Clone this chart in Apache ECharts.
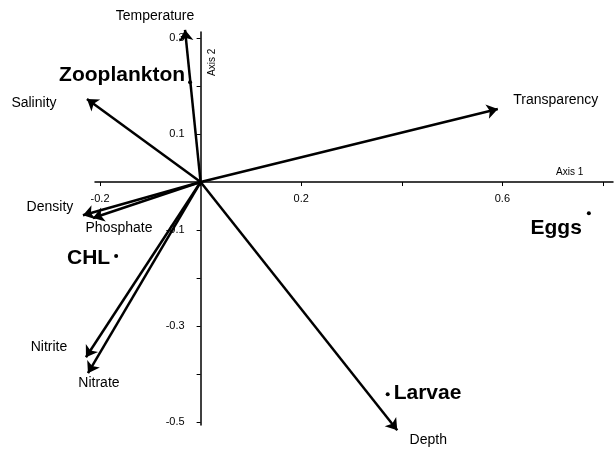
<!DOCTYPE html>
<html>
<head>
<meta charset="utf-8">
<script src="https://cdn.jsdelivr.net/npm/echarts@6/dist/echarts.min.js"></script>
<style>html,body{margin:0;padding:0;background:#fff}#c{width:614px;height:449px}</style>
</head>
<body>
<div id="c"></div>
<script>
// Environmental vectors (arrows from origin)
const vectorNames = ['Temperature', 'Salinity', 'Transparency', 'Density', 'Phosphate', 'Nitrite', 'Nitrate', 'Depth'];
const vectorX = [-0.031, -0.226, 0.591, -0.234, -0.214, -0.228, -0.224, 0.391];
const vectorY = [0.317, 0.173, 0.152, -0.069, -0.075, -0.365, -0.398, -0.517];
// Biological points
const pointNames = ['Zooplankton', 'Eggs', 'CHL', 'Larvae'];
const pointX = [-0.021, 0.772, -0.168, 0.372];
const pointY = [0.208, -0.065, -0.154, -0.442];
// Axis ticks
const xTicks = [-0.2, 0, 0.2, 0.4, 0.6, 0.8];
const xTickLabels = [-0.2, 0.2, 0.6];
const yTicks = [-0.5, -0.4, -0.3, -0.2, -0.1, 0, 0.1, 0.2, 0.3];
const yTickLabels = [-0.5, -0.3, -0.1, 0.1, 0.3];

// label styling (pixel offsets, not data)
const vecLabelOffset = {
  Temperature: [-30, -14], Salinity: [-53, 4], Transparency: [58, -9], Density: [-33, -8],
  Phosphate: [26, 10], Nitrite: [-37, -10], Nitrate: [11, 10], Depth: [31, 10]
};
const ptLabelStyle = {
  Zooplankton: { position: 'left', distance: 3, offset: [0, -7] },
  Eggs: { position: 'left', distance: 5, offset: [0, 15] },
  CHL: { position: 'left', distance: 4, offset: [0, 2] },
  Larvae: { position: 'right', distance: 4, offset: [0, -1] }
};

const FONT = '"Liberation Sans", Arial, sans-serif';
const chart = echarts.init(document.getElementById('c'), null, { renderer: 'canvas' });

const lineData = vectorNames.map((n, i) => ({ name: n, coords: [[0, 0], [vectorX[i], vectorY[i]]] }));
const vecLabelData = vectorNames.map((n, i) => ({
  name: n, value: [vectorX[i], vectorY[i]],
  label: { show: true, position: 'inside', offset: vecLabelOffset[n], formatter: n,
           color: '#000', fontSize: 14, fontFamily: FONT }
}));
const ptData = pointNames.map((n, i) => ({
  name: n, value: [pointX[i], pointY[i]],
  label: Object.assign({ show: true, formatter: n, color: '#000', fontSize: 21, fontWeight: 'bold', fontFamily: FONT }, ptLabelStyle[n])
}));

const GRID = { left: 95, right: 1, top: 32, bottom: 24, containLabel: false };

chart.setOption({
  animation: false,
  backgroundColor: '#fff',
  grid: GRID,
  xAxis: {
    type: 'value', min: -0.21, max: 0.82,
    axisLine: { onZero: false, lineStyle: { color: '#000', width: 1.5 } },
    axisTick: { show: true, length: 4, customValues: xTicks, lineStyle: { color: '#000' } },
    axisLabel: { customValues: xTickLabels, color: '#000', fontSize: 11, fontFamily: FONT, margin: 11 },
    splitLine: { show: false }
  },
  yAxis: {
    type: 'value', min: -0.506, max: 0.3125,
    axisLine: { onZero: false, lineStyle: { color: '#000', width: 1.5 } },
    axisTick: { show: true, length: 4, customValues: yTicks, lineStyle: { color: '#000' } },
    axisLabel: { customValues: yTickLabels, color: '#000', fontSize: 11, fontFamily: FONT, margin: 16 },
    splitLine: { show: false }
  },
  graphic: [
    { type: 'text', left: 556, top: 167, style: { text: 'Axis 1', font: '10px ' + FONT, fill: '#000' } },
    { type: 'text', x: 212, y: 76, rotation: Math.PI / 2,
      style: { text: 'Axis 2', font: '10px ' + FONT, fill: '#000', textAlign: 'left', textVerticalAlign: 'middle' } }
  ],
  series: [
    {
      type: 'lines', coordinateSystem: 'cartesian2d', z: 3, clip: false,
      symbol: ['none', 'arrow'], symbolSize: 11,
      lineStyle: { color: '#000', width: 2.5, opacity: 1, curveness: 0 },
      data: lineData
    },
    {
      type: 'scatter', symbolSize: 0, z: 4, clip: false,
      itemStyle: { opacity: 1 },
      data: vecLabelData
    },
    {
      type: 'scatter', symbol: 'circle', symbolSize: 4, z: 4, clip: false,
      itemStyle: { color: '#000', opacity: 1 },
      data: ptData
    }
  ]
});

// Move the axes so they cross at the origin (line, ticks and labels together)
const origin = chart.convertToPixel({ xAxisIndex: 0, yAxisIndex: 0 }, [0, 0]);
const H = chart.getHeight();
chart.setOption({
  xAxis: { offset: -((H - GRID.bottom) - origin[1]) },
  yAxis: { offset: -(origin[0] - GRID.left) }
});
</script>
</body>
</html>
